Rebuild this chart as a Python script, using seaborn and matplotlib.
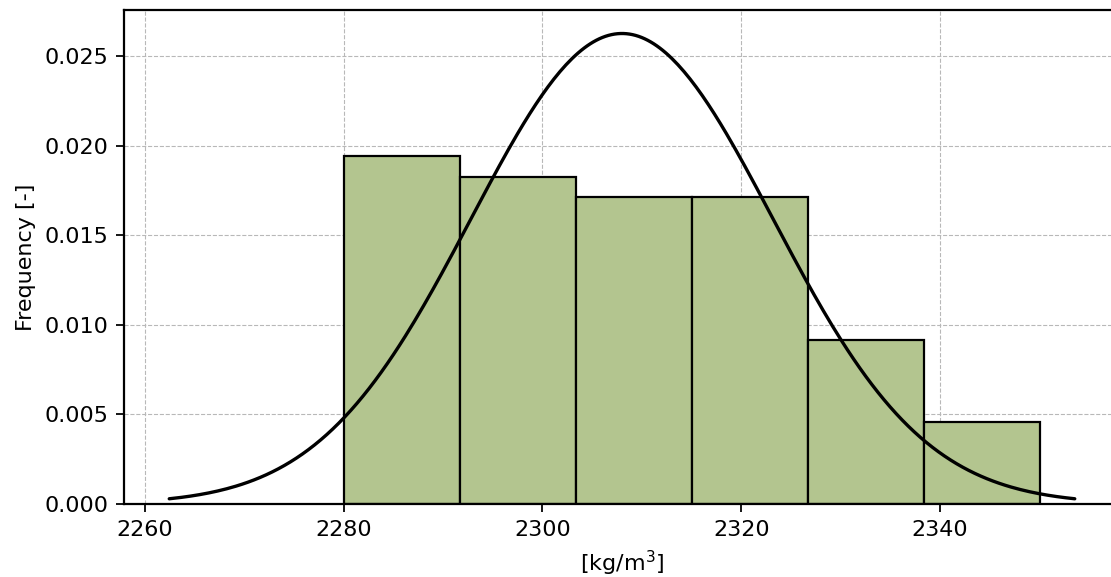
import numpy as np
import matplotlib
matplotlib.use("Agg")
import matplotlib.pyplot as plt
import seaborn as sns

# Data
bin_edges = [2280.0, 2291.667, 2303.333, 2315.0, 2326.667, 2338.333, 2350.0]
bar_heights = [0.01943, 0.01829, 0.01714, 0.01714, 0.00914, 0.00457]
fit_mean = 2308.0
fit_std = 15.18
x_ticks = [2260, 2280, 2300, 2320, 2340]
y_ticks = [0.000, 0.005, 0.010, 0.015, 0.020, 0.025]

sns.set_style("ticks")
plt.rcParams['font.family'] = ['DejaVu Sans']
plt.rcParams['font.size'] = 10
for k in ['text.color', 'axes.labelcolor', 'xtick.color', 'ytick.color']:
    plt.rcParams[k] = 'black'

fig = plt.figure(figsize=(1111 / 160, 577 / 160), dpi=160)
ax = fig.add_axes([124 / 1111, 1 - 504 / 577, (1120 - 124) / 1111, (504 - 10) / 577])

centers = [(bin_edges[i] + bin_edges[i + 1]) / 2 for i in range(len(bar_heights))]
sns.histplot(x=centers, weights=bar_heights, bins=bin_edges, stat="count",
             color="#b3c58f", edgecolor="black", linewidth=1.0, alpha=1.0, ax=ax, zorder=2)

xs = np.linspace(fit_mean - 3 * fit_std, fit_mean + 3 * fit_std, 300)
pdf = np.exp(-0.5 * ((xs - fit_mean) / fit_std) ** 2) / (fit_std * np.sqrt(2 * np.pi))
sns.lineplot(x=xs, y=pdf, color="black", linewidth=1.5, ax=ax, zorder=3)

ax.set_xlim(fit_mean - 3 * fit_std - 4.55, fit_mean + 3 * fit_std + 4.55)
ax.set_ylim(0, pdf.max() * 1.05)
ax.set_xticks(x_ticks)
ax.set_yticks(y_ticks)
ax.set_yticklabels([f"{v:.3f}" for v in y_ticks])
ax.grid(True, linestyle="--", color="#b8b8b8", linewidth=0.5, zorder=0)
ax.set_axisbelow(True)
ax.set_xlabel("[kg/m$^3$]")
ax.set_ylabel("Frequency [-]")
ax.tick_params(colors="black", width=0.8, length=3.5, pad=3.5)
for s in ax.spines.values():
    s.set_linewidth(1.0)
    s.set_color("black")

fig.savefig("out.png", dpi=160)
